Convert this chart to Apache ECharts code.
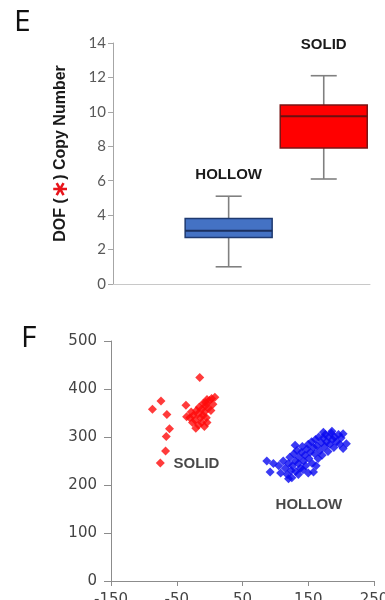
<!DOCTYPE html>
<html>
<head>
<meta charset="utf-8">
<script src="https://cdn.jsdelivr.net/npm/echarts@6/dist/echarts.min.js"></script>
<style>html,body{margin:0;padding:0;background:#fff;}#c{width:385px;height:600px;}</style>
</head>
<body>
<div id="c"></div>
<script>
// ---- Panel E: box plot data ----
const boxCategories = ['HOLLOW', 'SOLID'];
// [min, Q1, median, Q3, max]
const hollowBox = [1.0, 2.7, 3.1, 3.8, 5.1];
const solidBox = [6.1, 7.9, 9.75, 10.4, 12.1];
const yTicksE = [0, 2, 4, 6, 8, 10, 12, 14];

// ---- Panel F: scatter data [x, y] ----
const solidPoints = [
  [-15, 424], [-87, 358], [-74, 375], [-65, 347], [-61, 317], [-66, 301], [-67, 271], [-75, 246],
  [-36, 366], [-35, 342], [-21, 318], [8, 383], [0, 376], [3, 380],
  [-30, 340], [-28, 352], [-25, 345], [-22, 335], [-20, 355], [-18, 348], [-16, 362], [-14, 340],
  [-12, 358], [-10, 370], [-8, 352], [-6, 365], [-5, 340], [-4, 378], [-2, 360], [2, 355],
  [-12, 330], [-8, 322], [-26, 330], [-4, 330], [5, 368], [-17, 325], [-10, 345], [-6, 372]
];
const hollowPoints = [
  [87, 250], [97, 245], [92, 227], [120, 213], [158, 227], [203, 307], [186, 312], [203, 276],
  [208, 286], [130, 283], [173, 310],
  [105, 240], [108, 225], [112, 250], [115, 235], [118, 222], [120, 245], [122, 258], [124, 230],
  [126, 240], [128, 265], [130, 250], [131, 228], [133, 272], [135, 245], [136, 258], [138, 235],
  [140, 268], [141, 280], [143, 250], [145, 262], [146, 240], [148, 275], [150, 285], [151, 255],
  [153, 268], [155, 290], [156, 245], [158, 278], [160, 265], [161, 295], [163, 282], [165, 255],
  [166, 300], [168, 272], [170, 288], [171, 262], [173, 298], [175, 280], [176, 305], [178, 290],
  [180, 270], [181, 300], [183, 285], [185, 308], [187, 295], [189, 278], [190, 300], [193, 290],
  [196, 305], [198, 285], [200, 298], [125, 215], [135, 222], [150, 225], [162, 240], [142, 232]
];
const xTicksF = [-150, -50, 50, 150, 250];
const yTicksF = [0, 100, 200, 300, 400, 500];

// ---- layout constants (not data) ----
const boxX = [4.5, 8.2];          // horizontal slot of each box on hidden x scale 0..10
const boxLabelY = [6.35, 13.9];   // where the group names sit on panel E
const scatterLabels = [[-20, 245, 'SOLID'], [151, 158, 'HOLLOW']];

const boxStyles = [
  { fill: '#4472c4', border: '#1f3a70', median: '#1a2f5e' },
  { fill: '#ff0000', border: '#7a1515', median: '#6a1010' }
];

const chart = echarts.init(document.getElementById('c'), null, { renderer: 'canvas' });

const boxData = [hollowBox, solidBox].map((b, i) => [boxX[i], ...b, boxLabelY[i], i]);

const option = {
  backgroundColor: '#ffffff',
  animation: false,
  graphic: [
    { type: 'text', left: 14, top: 7, style: { text: 'E', font: '30px "Open Sans"', fill: '#111' } },
    { type: 'text', left: 21, top: 323, style: { text: 'F', font: '30px "Open Sans"', fill: '#111' } }
  ],
  grid: [
    { left: 113, top: 43, width: 257, height: 241, outerBoundsMode: 'none', containLabel: false },
    { left: 111, top: 341, width: 263, height: 240, outerBoundsMode: 'none', containLabel: false }
  ],
  xAxis: [
    {
      gridIndex: 0, type: 'value', min: 0, max: 10,
      axisLine: { show: true, onZero: false, lineStyle: { color: '#c8c8c8', width: 1 } },
      axisTick: { show: false }, axisLabel: { show: false }, splitLine: { show: false }
    },
    {
      gridIndex: 1, type: 'value', min: -150, max: 250, interval: 100,
      axisLine: { show: true, onZero: false, lineStyle: { color: '#8c8c8c', width: 1 } },
      axisTick: { show: true, length: 5, lineStyle: { color: '#8c8c8c' } },
      axisLabel: { show: true, margin: 12, color: '#444', fontSize: 15, fontFamily: 'DejaVu Sans' },
      splitLine: { show: false }
    }
  ],
  yAxis: [
    {
      gridIndex: 0, type: 'value', min: 0, max: 14, interval: 2,
      name: '{a|DOF (}{r|∗}{a|) Copy Number}',
      nameLocation: 'middle', nameGap: 41, nameRotate: 90,
      nameTextStyle: {
        padding: [0, 0, 0, 20],
        rich: {
          a: { fontSize: 16, fontWeight: 'bold', color: '#1a1a1a', fontFamily: 'Liberation Sans', verticalAlign: 'middle', lineHeight: 22 },
          r: { fontSize: 22, fontWeight: 'bold', color: '#e8141b', fontFamily: 'DejaVu Sans', verticalAlign: 'middle', lineHeight: 22 }
        }
      },
      axisLine: { show: true, onZero: false, lineStyle: { color: '#a6a6a6', width: 1 } },
      axisTick: { show: true, length: 5, lineStyle: { color: '#a6a6a6' } },
      axisLabel: { show: true, margin: 7, color: '#595959', fontSize: 15, fontFamily: 'Lato' },
      splitLine: { show: false }
    },
    {
      gridIndex: 1, type: 'value', min: 0, max: 500, interval: 100,
      axisLine: { show: true, onZero: false, lineStyle: { color: '#8c8c8c', width: 1 } },
      axisTick: { show: true, length: 7, lineStyle: { color: '#8c8c8c' } },
      axisLabel: { show: true, margin: 14, color: '#444', fontSize: 15, fontFamily: 'DejaVu Sans' },
      splitLine: { show: false }
    }
  ],
  series: [
    {
      type: 'custom', xAxisIndex: 0, yAxisIndex: 0,
      data: boxData,
      renderItem: function (params, api) {
        const x = api.value(0);
        const pMin = api.coord([x, api.value(1)]);
        const pQ1 = api.coord([x, api.value(2)]);
        const pMed = api.coord([x, api.value(3)]);
        const pQ3 = api.coord([x, api.value(4)]);
        const pMax = api.coord([x, api.value(5)]);
        const pLab = api.coord([x, api.value(6)]);
        const st = boxStyles[api.value(7)];
        const half = 43.5, cap = 13;
        const cx = pMed[0];
        const grey = { stroke: '#808080', lineWidth: 1.6 };
        return {
          type: 'group',
          children: [
            { type: 'line', shape: { x1: cx, y1: pMax[1], x2: cx, y2: pMin[1] }, style: grey },
            { type: 'line', shape: { x1: cx - cap, y1: pMax[1], x2: cx + cap, y2: pMax[1] }, style: grey },
            { type: 'line', shape: { x1: cx - cap, y1: pMin[1], x2: cx + cap, y2: pMin[1] }, style: grey },
            { type: 'rect', shape: { x: cx - half, y: pQ3[1], width: half * 2, height: pQ1[1] - pQ3[1] },
              style: { fill: st.fill, stroke: st.border, lineWidth: 1.5 } },
            { type: 'line', shape: { x1: cx - half, y1: pMed[1], x2: cx + half, y2: pMed[1] },
              style: { stroke: st.median, lineWidth: 2 } },
            { type: 'text', x: cx, y: pLab[1],
              style: { text: boxCategories[api.value(7)], textAlign: 'center', textVerticalAlign: 'middle',
                font: 'bold 15px "Liberation Sans"', fill: '#1a1a1a' } }
          ]
        };
      }
    },
    {
      type: 'scatter', xAxisIndex: 1, yAxisIndex: 1, name: 'SOLID',
      symbol: 'diamond', symbolSize: 9,
      itemStyle: { color: '#ff0a0a' },
      data: solidPoints
    },
    {
      type: 'scatter', xAxisIndex: 1, yAxisIndex: 1, name: 'HOLLOW',
      symbol: 'diamond', symbolSize: 9,
      itemStyle: { color: '#0a0af0' },
      data: hollowPoints
    },
    {
      type: 'scatter', xAxisIndex: 1, yAxisIndex: 1,
      symbolSize: 0,
      label: { show: true, position: 'inside', formatter: p => p.value[2],
        fontWeight: 'bold', fontSize: 15, color: '#1a1a1a', fontFamily: 'Liberation Sans' },
      data: scatterLabels
    }
  ]
};
chart.setOption(option);
</script>
</body>
</html>
